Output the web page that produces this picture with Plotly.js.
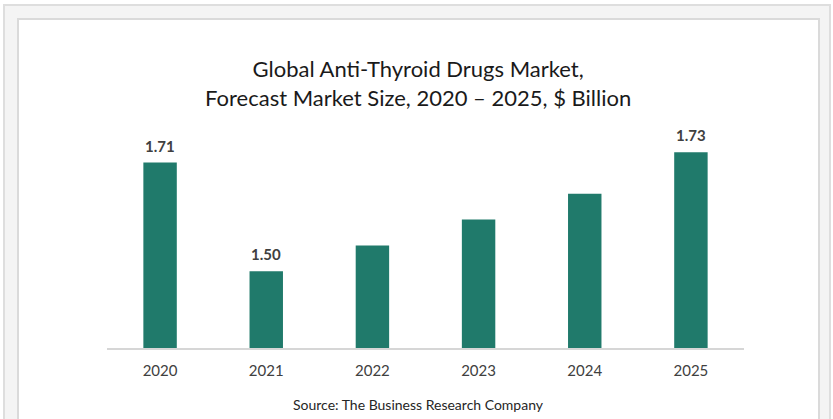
<!DOCTYPE html>
<html>
<head>
<meta charset="utf-8">
<script src="https://cdn.plot.ly/plotly-3.0.1.min.js"></script>
<style>
  html, body { margin: 0; padding: 0; background: #ffffff; width: 833px; height: 419px; overflow: hidden; }
  #outer { position: absolute; left: 3px; top: 4px; width: 824px; height: 430px; background: #f4f4f4; border: 2px solid #dedede; box-sizing: content-box; }
  #inner { position: absolute; left: 17px; top: 18px; width: 799px; height: 430px; background: #ffffff; border: 2px solid #dadada; }
  #chart { position: absolute; left: 0; top: 0; width: 833px; height: 419px; }
</style>
</head>
<body>
<div id="outer"></div>
<div id="inner"></div>
<div id="chart"></div>
<script>
const years = ["2020", "2021", "2022", "2023", "2024", "2025"];
const marketSize = [1.71, 1.50, 1.55, 1.60, 1.65, 1.73];
const barLabels = ["1.71", "1.50", "", "", "", "1.73"];
const chartTitle = "Global Anti-Thyroid Drugs Market,<br>Forecast Market Size, 2020 \u2013 2025, $ Billion";
const sourceText = "Source: The Business Research Company";

const trace = {
  type: "bar",
  x: years,
  y: marketSize,
  hoverinfo: "x+y",
  marker: { color: "#207a6b" }
};

const labelAnnotations = years.map((yr, i) => ({
  x: i,
  y: marketSize[i],
  xref: "x",
  yref: "y",
  text: barLabels[i],
  showarrow: false,
  xanchor: "center",
  yanchor: "bottom",
  yshift: 6,
  font: { family: "Lato, 'Open Sans', sans-serif", size: 15, color: "#404040", weight: "bold" }
})).filter(a => a.text !== "");

const layout = {
  width: 833,
  height: 419,
  margin: { l: 107, r: 89, t: 116.4, b: 70.7 },
  paper_bgcolor: "rgba(0,0,0,0)",
  plot_bgcolor: "rgba(0,0,0,0)",
  bargap: 0.685,
  showlegend: false,
  title: {
    text: chartTitle,
    font: { family: "Lato, 'Open Sans', sans-serif", size: 22, color: "#1a1a1a" },
    x: 0.502,
    xref: "container",
    xanchor: "center",
    y: 1 - 77 / 419,
    yref: "container",
    yanchor: "middle"
  },
  xaxis: {
    type: "category",
    categoryarray: years,
    range: [-0.5, years.length - 0.5],
    showline: true,
    linecolor: "#d6d6d6",
    linewidth: 1.5,
    ticks: "",
    showgrid: false,
    tickfont: { family: "Lato, 'Open Sans', sans-serif", size: 15, color: "#404040" },
    ticklabelstandoff: 8
  },
  yaxis: {
    range: [1.352, 1.80],
    visible: false,
    showgrid: false,
    zeroline: false
  },
  annotations: labelAnnotations.concat([{
    text: sourceText,
    xref: "paper",
    yref: "paper",
    x: (418 - 107) / 637,
    y: (348.3 - 405) / 231.9,
    xanchor: "center",
    yanchor: "middle",
    showarrow: false,
    font: { family: "Lato, 'Open Sans', sans-serif", size: 14, color: "#262626" }
  }])
};

Plotly.newPlot("chart", [trace], layout, { displayModeBar: false, staticPlot: true });
</script>
</body>
</html>
